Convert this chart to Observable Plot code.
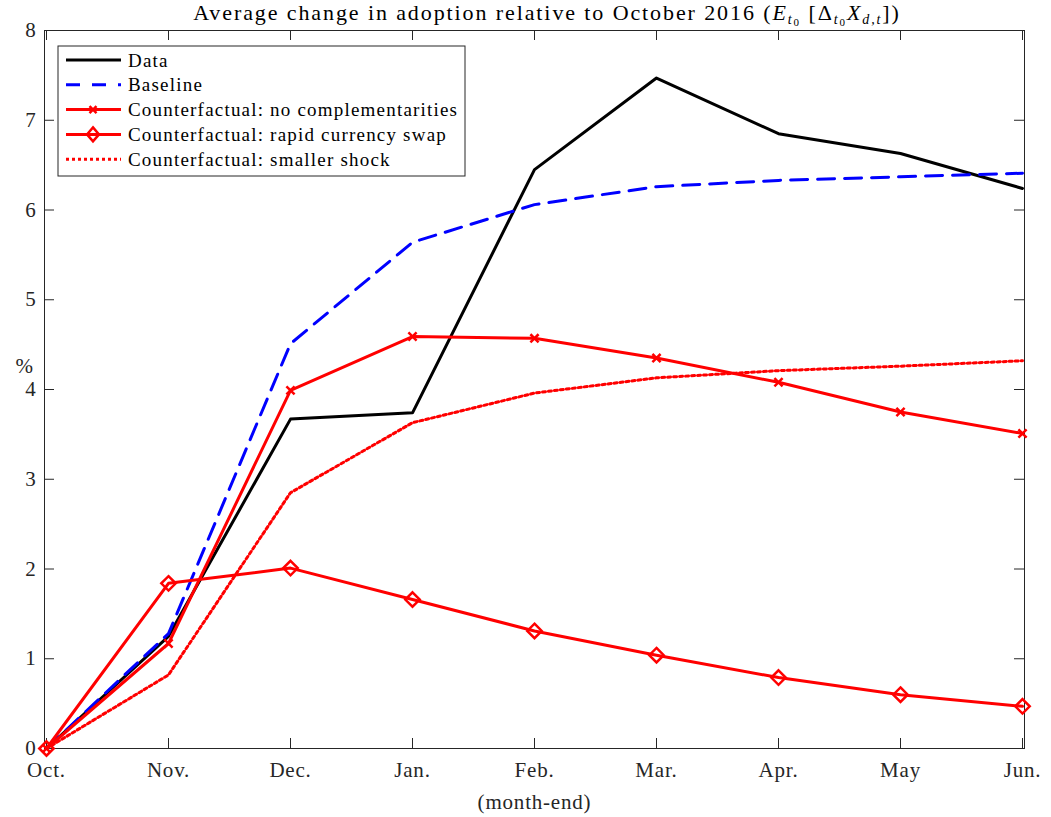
<!DOCTYPE html>
<html><head><meta charset="utf-8">
<script src="https://cdn.jsdelivr.net/npm/d3@7"></script>
<script src="https://cdn.jsdelivr.net/npm/@observablehq/plot@0.6"></script>
<style>body{margin:0;background:#fff;} svg{display:block;}</style>
</head><body><div id="chart"></div>
<script>
const months = ["Oct.","Nov.","Dec.","Jan.","Feb.","Mar.","Apr.","May","Jun."];
const dataVals = [0,1.25,3.67,3.74,6.45,7.47,6.85,6.63,6.24];
const baselineVals = [0,1.28,4.51,5.64,6.06,6.26,6.33,6.37,6.41];
const noComplVals = [0,1.17,3.99,4.59,4.57,4.35,4.08,3.75,3.51];
const rapidVals = [0,1.84,2.01,1.66,1.31,1.04,0.79,0.60,0.47];
const smallerVals = [0,0.82,2.85,3.63,3.96,4.13,4.21,4.26,4.32];
const yTicks = [0,1,2,3,4,5,6,7,8];
const seriesNames = ["Data","Baseline","Counterfactual: no complementarities","Counterfactual: rapid currency swap","Counterfactual: smaller shock"];

const mk = vals => months.map((m,i)=>({m, v: vals[i]}));
const dData = mk(dataVals), dBase = mk(baselineVals), dNo = mk(noComplVals), dRapid = mk(rapidVals), dSmall = mk(smallerVals);

const FONT = "Liberation Serif";
const axisCol = "#262626";
const W = 1051, H = 817, ML = 44, MR = 27, MT = 30, MB = 69;
const fw = W-ML-MR, fh = H-MT-MB, tl = 10;

const chart = Plot.plot({
  width: W, height: H,
  marginLeft: ML, marginRight: MR, marginTop: MT, marginBottom: MB,
  style: {fontFamily: FONT, fontSize: "21px", color: axisCol, background: "#fff", letterSpacing: "0.8px"},
  x: {type: "point", domain: months, padding: 0},
  y: {domain: [0,8]},
  marks: [
    Plot.frame({stroke: axisCol, strokeWidth: 1}),
    Plot.tickY(yTicks, {y: d=>d, insetRight: fw-tl, stroke: axisCol}),
    Plot.tickY(yTicks, {y: d=>d, insetLeft: fw-tl, stroke: axisCol}),
    Plot.tickX(months, {x: d=>d, insetTop: fh-tl, stroke: axisCol}),
    Plot.tickX(months, {x: d=>d, insetBottom: fh-tl, stroke: axisCol}),
    Plot.axisY(yTicks, {tickSize: 0, tickPadding: 8, label: null, tickFormat: d=>String(d), fill: axisCol}),
    Plot.axisX({tickSize: 0, tickPadding: 14, label: "(month-end)", labelAnchor: "center", labelArrow: "none", labelOffset: 60, fill: axisCol}),
    Plot.text(["%"], {frameAnchor: "left", dx: -29, dy: -23, text: d=>d, fontSize: 21, fill: axisCol}),
    Plot.line(dData, {x:"m", y:"v", stroke:"#000", strokeWidth: 3}),
    Plot.line(dBase, {x:"m", y:"v", stroke:"#0000ff", strokeWidth: 3, strokeDasharray: "17,10"}),
    Plot.line(dNo, {x:"m", y:"v", stroke:"#ff0000", strokeWidth: 3}),
    Plot.dot(dNo, {x:"m", y:"v", symbol:"times", r: 3.8, stroke:"#ff0000", strokeWidth: 2.5}),
    Plot.line(dRapid, {x:"m", y:"v", stroke:"#ff0000", strokeWidth: 3}),
    Plot.dot(dRapid, {x:"m", y:"v", symbol:"diamond2", r: 6.5, stroke:"#ff0000", fill:"none", strokeWidth: 2.5}),
    Plot.line(dSmall, {x:"m", y:"v", stroke:"#ff0000", strokeWidth: 3, strokeDasharray: "3,3"})
  ]
});
document.getElementById("chart").append(chart);

const svg = d3.select(chart);
// Title
const t = svg.append("text").attr("x", 547).attr("y", 20).attr("text-anchor","middle")
  .attr("font-family", FONT).attr("font-size", 22).attr("letter-spacing", "1.9px").attr("fill", "#000");
t.append("tspan").text("Average change in adoption relative to October 2016 (");
t.append("tspan").attr("font-style","italic").text("E");
t.append("tspan").attr("font-style","italic").attr("font-size",14).attr("dy",4).text("t");
t.append("tspan").attr("font-size",11).attr("dy",2).text("0");
t.append("tspan").attr("dy",-6).text("\u00a0[\u0394");
t.append("tspan").attr("font-style","italic").attr("font-size",14).attr("dy",4).text("t");
t.append("tspan").attr("font-size",11).attr("dy",2).text("0");
t.append("tspan").attr("font-style","italic").attr("dy",-6).text("X");
t.append("tspan").attr("font-style","italic").attr("font-size",14).attr("dy",4).text("d,t");
t.append("tspan").attr("dy",-4).text("])");

// Legend
const lg = svg.append("g").attr("font-family", FONT).attr("font-size", 19).attr("letter-spacing","1.2px").attr("text-anchor","start");
lg.append("rect").attr("x",58).attr("y",46).attr("width",407).attr("height",130)
  .attr("fill","#fff").attr("stroke",axisCol).attr("stroke-width",1);
const styles = [
  {stroke:"#000", dash:null, sym:null},
  {stroke:"#0000ff", dash:"14,12", sym:null},
  {stroke:"#ff0000", dash:null, sym:"times"},
  {stroke:"#ff0000", dash:null, sym:"diamond"},
  {stroke:"#ff0000", dash:"3,3", sym:null}
];
seriesNames.forEach((name,i)=>{
  const y = 60 + i*24.8;
  const l = lg.append("line").attr("x1",66).attr("x2",121).attr("y1",y).attr("y2",y)
    .attr("stroke",styles[i].stroke).attr("stroke-width",3);
  if (styles[i].dash) l.attr("stroke-dasharray", styles[i].dash);
  if (styles[i].sym==="times") {
    lg.append("path").attr("d", `M${93-3.5},${y-3.5}L${93+3.5},${y+3.5}M${93-3.5},${y+3.5}L${93+3.5},${y-3.5}`)
      .attr("stroke","#ff0000").attr("stroke-width",2.5).attr("fill","none");
  }
  if (styles[i].sym==="diamond") {
    lg.append("path").attr("d", `M93,${y-7}L${93+6},${y}L93,${y+7}L${93-6},${y}Z`)
      .attr("stroke","#ff0000").attr("stroke-width",2.5).attr("fill","none");
  }
  lg.append("text").attr("x",128).attr("y",y+6.5).attr("fill","#000").text(name);
});
</script></body></html>
